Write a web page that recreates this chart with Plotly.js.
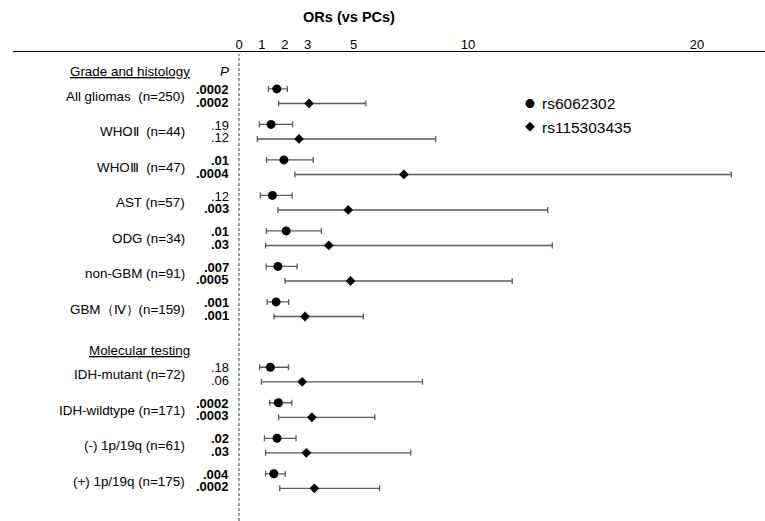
<!DOCTYPE html>
<html>
<head>
<meta charset="utf-8">
<script src="https://cdn.plot.ly/plotly-3.0.1.min.js"></script>
<style>html,body{margin:0;padding:0;background:#fff;}#chart{width:765px;height:521px;}</style>
</head>
<body>
<div id="chart"></div>
<script>
// ---- data ----
const groupLabels = [
  "All gliomas  (n=250)", "WHO\u2161  (n=44)", "WHO\u2162  (n=47)", "AST (n=57)",
  "ODG (n=34)", "non-GBM (n=91)", "GBM\uFF08\u2163\uFF09(n=159)",
  "IDH-mutant (n=72)", "IDH-wildtype (n=171)", "(-) 1p/19q (n=61)", "(+) 1p/19q (n=175)"
];
const sectionTitles = ["Grade and histology", "Molecular testing"];
const sectionSizes = [7, 4];
const seriesNames = ["rs6062302", "rs115303435"];

const orA = [1.65, 1.40, 1.96, 1.46, 2.06, 1.70, 1.62, 1.37, 1.72, 1.66, 1.52];
const loA = [1.28, 0.89, 1.20, 0.93, 1.19, 1.19, 1.23, 0.90, 1.34, 1.11, 1.16];
const hiA = [2.11, 2.34, 3.24, 2.32, 3.60, 2.54, 2.17, 2.16, 2.31, 2.49, 2.02];
const pA  = [".0002", ".19", ".01", ".12", ".01", ".007", ".001", ".18", ".0002", ".02", ".004"];

const orB = [3.06, 2.62, 7.20, 4.77, 3.92, 4.87, 2.88, 2.76, 3.18, 2.94, 3.29];
const loB = [1.73, 0.80, 2.44, 1.70, 1.16, 2.01, 1.53, 0.98, 1.73, 1.16, 1.78];
const hiB = [5.54, 8.59, 21.5, 13.48, 13.68, 11.93, 5.43, 8.01, 5.93, 7.50, 6.14];
const pB  = [".0002", ".12", ".0004", ".003", ".03", ".0005", ".001", ".06", ".0003", ".03", ".0002"];

const xTicks = [0, 1, 2, 3, 5, 10, 20];

// ---- layout helpers ----
const SECTION_GAP = 0.84, DIAMOND_OFF = 0.41;
const rowY = [];
let idx = 0;
sectionSizes.forEach((n, s) => { for (let k = 0; k < n; k++) { rowY.push(idx + s * SECTION_GAP); idx++; } });
const yA = rowY.slice();
const yB = rowY.map(v => v + DIAMOND_OFF);
const sectionStartY = [];
{ let c = 0; sectionSizes.forEach((n, s) => { sectionStartY.push(rowY[c]); c += n; }); }

const FONT = "Liberation Sans, Arial, sans-serif";
const lineCol = "#5a5a5a";
const W = 765, H = 521, ML = 13, MT = 52;
const px2paperX = px => (px - ML) / (W - ML);
const px2paperY = py => 1 - (py - MT) / (H - MT);

function errTrace(x, lo, hi, y, symbol, size) {
  return {
    type: "scatter", mode: "markers", name: " ", x: x, y: y,
    marker: {symbol: symbol, size: size, color: "#000"},
    error_x: {type: "data", symmetric: false,
      array: hi.map((h, i) => h - x[i]), arrayminus: lo.map((l, i) => x[i] - l),
      color: lineCol, thickness: 1.3, width: 3},
    hoverinfo: "x+y"
  };
}

const traces = [
  errTrace(orA, loA, hiA, yA, "circle", 9),
  errTrace(orB, loB, hiB, yB, "diamond", 7.5)
];

const sig = p => parseFloat(p) < 0.05;
const annotations = [];
function ann(x, y, text, size) {
  annotations.push({x: x, y: y, xref: "x", yref: "y", xanchor: "right", yanchor: "middle",
    text: text, showarrow: false, font: {family: FONT, size: size || 13.4, color: "#000"}});
}
groupLabels.forEach((lab, i) => {
  ann(-2.27, (yA[i] + yB[i]) / 2, lab);
  ann(-0.35, yA[i] + 0.02, sig(pA[i]) ? "<b>" + pA[i] + "</b>" : pA[i], 13);
  ann(-0.35, yB[i] - 0.04, sig(pB[i]) ? "<b>" + pB[i] + "</b>" : pB[i], 13);
});
sectionTitles.forEach((t, s) => ann(-2.05, sectionStartY[s] - 0.48, "<u>" + t + "</u>"));
ann(-0.33, sectionStartY[0] - 0.48, "<i>P</i>");

// legend names as text next to the legend symbols
const legendFirstY = 103.5, legendStep = 24;
seriesNames.forEach((nm, k) => {
  annotations.push({x: px2paperX(540), y: px2paperY(legendFirstY + k * legendStep), xref: "paper", yref: "paper",
    xanchor: "left", yanchor: "middle", text: nm, showarrow: false,
    font: {family: FONT, size: 15.5, color: "#000"}});
});

const layout = {
  width: W, height: H,
  margin: {l: ML, r: 0, t: MT, b: 0, pad: 0},
  paper_bgcolor: "#fff", plot_bgcolor: "#fff",
  title: {text: "<b>ORs (vs PCs)</b>", font: {family: FONT, size: 14.5, color: "#000"},
    xref: "container", yref: "container", x: 349 / W, xanchor: "center", y: 1 - 17 / H, yanchor: "middle"},
  xaxis: {side: "top", range: [-9.869, 22.969], tickvals: xTicks, ticktext: xTicks.map(String),
    showgrid: false, zeroline: false, showline: true, linecolor: "#000", linewidth: 1.5,
    ticks: "", ticklabelstandoff: -4, tickfont: {family: FONT, size: 13, color: "#000"}, fixedrange: true},
  yaxis: {range: [12.17, -1.04], visible: false, showgrid: false, zeroline: false, fixedrange: true},
  shapes: [{type: "line", xref: "x", yref: "paper", x0: 0, x1: 0, y0: 0, y1: 0.995,
    line: {color: "#555", width: 1.2, dash: "3px,2px"}}],
  annotations: annotations,
  showlegend: true,
  legend: {x: px2paperX(510), xanchor: "left", y: px2paperY(87), yanchor: "top",
    font: {family: FONT, size: 15.5, color: "#000"}, bgcolor: "rgba(0,0,0,0)",
    traceorder: "normal", itemclick: false}
};

Plotly.newPlot("chart", traces, layout, {displayModeBar: false, staticPlot: true});
</script>
</body>
</html>
